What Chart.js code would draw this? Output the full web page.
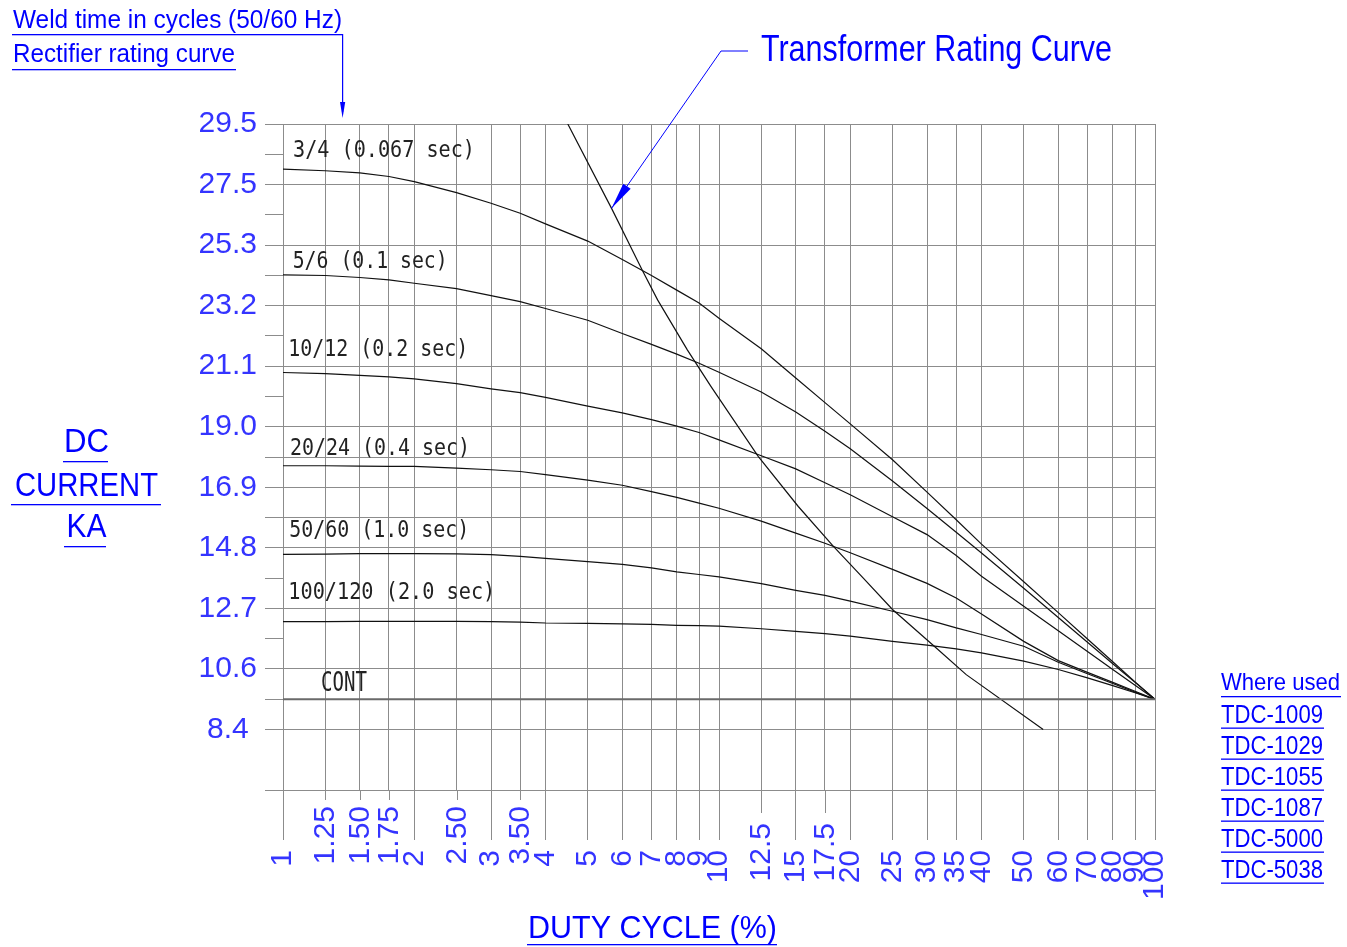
<!DOCTYPE html>
<html>
<head>
<meta charset="utf-8">
<title>Rectifier rating curve</title>
<script src="https://cdn.jsdelivr.net/npm/chart.js@4.4.1/dist/chart.umd.min.js"></script>
<style>
  html, body { margin: 0; padding: 0; background: #fff; }
  canvas { display: block; }
</style>
</head>
<body>
<canvas id="chart" width="1347" height="947"></canvas>
<script>
const dutyCycle = [1, 1.25, 1.5, 1.75, 2, 2.5, 3, 3.5, 4, 5, 6, 7, 8, 9, 10, 12.5, 15, 17.5, 20, 25, 30, 35, 40, 50, 60, 70, 80, 90, 100];

// DC current (KA) for each weld time
const cycles3_4 = [27.93, 27.87, 27.80, 27.67, 27.49, 27.11, 26.74, 26.39, 26.02, 25.42, 24.78, 24.22, 23.71, 23.26, 22.73, 21.67, 20.65, 19.79, 19.05, 17.80, 16.67, 15.71, 14.86, 13.55, 12.47, 11.55, 10.76, 10.06, 9.45];
const cycles5_6 = [24.24, 24.22, 24.15, 24.07, 23.95, 23.76, 23.52, 23.31, 23.07, 22.66, 22.20, 21.82, 21.48, 21.16, 20.85, 20.16, 19.46, 18.79, 18.18, 17.06, 16.10, 15.27, 14.55, 13.32, 12.30, 11.44, 10.69, 10.04, 9.45];
const cycles10_12 = [20.84, 20.80, 20.74, 20.69, 20.62, 20.45, 20.27, 20.14, 19.97, 19.67, 19.43, 19.20, 18.97, 18.75, 18.49, 17.94, 17.48, 17.00, 16.58, 15.81, 15.19, 14.46, 13.74, 12.69, 11.84, 11.12, 10.49, 9.94, 9.45];
const cycles20_24 = [17.59, 17.59, 17.58, 17.57, 17.57, 17.51, 17.45, 17.39, 17.28, 17.09, 16.91, 16.69, 16.49, 16.29, 16.11, 15.66, 15.24, 14.89, 14.56, 13.98, 13.49, 12.98, 12.42, 11.47, 10.80, 10.39, 10.04, 9.73, 9.45];
const cycles50_60 = [14.50, 14.51, 14.53, 14.53, 14.53, 14.52, 14.49, 14.43, 14.36, 14.25, 14.15, 14.03, 13.89, 13.80, 13.72, 13.48, 13.25, 13.07, 12.87, 12.52, 12.23, 11.94, 11.71, 11.30, 10.74, 10.34, 10.00, 9.70, 9.45];
const cycles100_120 = [12.16, 12.16, 12.17, 12.17, 12.17, 12.17, 12.16, 12.14, 12.11, 12.10, 12.08, 12.06, 12.03, 12.02, 12.00, 11.91, 11.82, 11.74, 11.65, 11.47, 11.34, 11.21, 11.07, 10.78, 10.49, 10.20, 9.93, 9.68, 9.45];
const seriesNames = ['3/4 (0.067 sec)', '5/6 (0.1 sec)', '10/12 (0.2 sec)', '20/24 (0.4 sec)', '50/60 (1.0 sec)', '100/120 (2.0 sec)'];

// continuous rating
const contDuty = [1, 100];
const contCurrent = [9.45, 9.45];

// transformer rating curve
const transformerDuty = [4.5, 5.67, 6.66, 7.23, 8.46, 9.59, 12.3, 15.2, 18.3, 21.4, 25.0, 31.5, 36.9, 55.4];
const transformerCurrent = [29.5, 26.56, 24.42, 23.37, 21.63, 20.35, 17.92, 16.17, 14.78, 13.68, 12.58, 11.24, 10.31, 8.40];

// axis ticks
const xMainTicks = [1, 2, 3, 4, 5, 6, 7, 8, 9, 10, 15, 20, 25, 30, 35, 40, 50, 60, 70, 80, 90, 100];
const xMinorTicks = [1.25, 1.5, 1.75, 2.5, 3.5, 12.5, 17.5];
const xMinorLabels = ['1.25', '1.50', '1.75', '2.50', '3.50', '12.5', '17.5'];
const yTickLabels = ['8.4', '10.6', '12.7', '14.8', '16.9', '19.0', '21.1', '23.2', '25.3', '27.5', '29.5'];
const whereUsed = ['TDC-1009', 'TDC-1029', 'TDC-1055', 'TDC-1087', 'TDC-5000', 'TDC-5038'];

const BLUE = '#0000ff';
const TICK_BLUE = '#3434ff';
const GRID = '#8c8c8c';
const INK = '#111';

// y axis is drawn in half steps of 2.11 KA starting from 8.4
const yBase = 8.4, yHalf = 1.055;
const yHalfIdx = [-2, 0, 1, 2, 3, 4, 5, 6, 7, 8, 9, 10, 11, 12, 13, 14, 15, 16, 17, 18, 19, 20];
const yFullIdx = [-2, 0, 1, 2, 4, 6, 7, 8, 9, 10, 12, 14, 16, 18, 20];

const xAll = xMainTicks.concat(xMinorTicks).sort((a, b) => a - b);

// label placement relative to the first point of each curve
const labelStyle = [
  {dx: 10, dy: 12, w: 182},
  {dx: 9.7, dy: 6.7, w: 155},
  {dx: 5.3, dy: 16.7, w: 180},
  {dx: 7, dy: 11, w: 180},
  {dx: 6.3, dy: 17.4, w: 180},
  {dx: 5.3, dy: 23, w: 207}
];

function fitText(ctx, s, x, base, size, width, family) {
  ctx.save();
  ctx.font = size + 'px ' + (family || '"Liberation Sans"');
  const w = ctx.measureText(s).width;
  ctx.translate(x, base);
  ctx.scale(width / w, 1);
  ctx.fillText(s, 0, 0);
  ctx.restore();
}

function monoText(ctx, s, x, base, width, vs) {
  ctx.save();
  ctx.font = '20px "DejaVu Sans Mono"';
  const w = ctx.measureText(s).width;
  ctx.translate(x, base);
  ctx.scale(width / w, vs);
  ctx.fillText(s, 0, 0);
  ctx.restore();
}

function underline(ctx, x1, x2, y) {
  ctx.fillRect(x1, y, x2 - x1, 1.3);
}

function arrowHead(ctx, tx, ty, fx, fy, len, half) {
  const L = Math.hypot(fx - tx, fy - ty);
  const ux = (fx - tx) / L, uy = (fy - ty) / L;
  const bx = tx + ux * len, by = ty + uy * len;
  ctx.beginPath();
  ctx.moveTo(tx, ty);
  ctx.lineTo(bx - uy * half, by + ux * half);
  ctx.lineTo(bx + uy * half, by - ux * half);
  ctx.closePath();
  ctx.fill();
}

const annotations = {
  id: 'annotations',
  afterDraw(chart) {
    const ctx = chart.ctx;
    const xs = chart.scales.x;
    const area = chart.chartArea;

    // curve labels
    ctx.fillStyle = '#222';
    ctx.textBaseline = 'alphabetic';
    ctx.textAlign = 'left';
    seriesNames.forEach((name, i) => {
      const p = chart.getDatasetMeta(i + 1).data[0];
      const st = labelStyle[i];
      monoText(ctx, name, area.left + st.dx, p.y - st.dy, st.w, 1.18);
    });
    const c0 = chart.getDatasetMeta(0).data[0];
    monoText(ctx, 'CONT', area.left + 38, c0.y - 8, 46, 1.3);

    // minor duty cycle ticks and labels
    ctx.strokeStyle = GRID;
    ctx.lineWidth = 1;
    ctx.fillStyle = TICK_BLUE;
    ctx.font = '30px "Liberation Sans"';
    xMinorTicks.forEach((v, i) => {
      const px = Math.round(xs.getPixelForValue(v)) + 0.5;
      const len = v > 10 ? 23 : 10;
      ctx.beginPath();
      ctx.moveTo(px, area.bottom);
      ctx.lineTo(px, area.bottom + len);
      ctx.stroke();
      ctx.save();
      ctx.translate(px, area.bottom + len + (v > 10 ? 10 : 6));
      ctx.rotate(-Math.PI / 2);
      ctx.textAlign = 'right';
      ctx.textBaseline = 'middle';
      ctx.fillText(xMinorLabels[i], 0, 0);
      ctx.restore();
    });

    ctx.fillStyle = BLUE;
    ctx.strokeStyle = BLUE;
    ctx.textAlign = 'left';
    ctx.textBaseline = 'alphabetic';

    // weld time / rectifier rating note with arrow to the top of the chart
    fitText(ctx, 'Weld time in cycles (50/60 Hz)', 13, 28, 26, 329);
    fitText(ctx, 'Rectifier rating curve', 13, 62, 26, 222);
    const wx = xs.getPixelForValue(1.37);
    underline(ctx, 12, wx, 34);
    underline(ctx, 12, 236, 69);
    ctx.lineWidth = 1.2;
    ctx.beginPath();
    ctx.moveTo(wx, 34);
    ctx.lineTo(wx, area.top - 12);
    ctx.stroke();
    arrowHead(ctx, wx, area.top - 6, wx, 34, 16, 2.6);

    // transformer rating curve note
    fitText(ctx, 'Transformer Rating Curve', 761, 61, 36, 351);
    const tip = chart.getDatasetMeta(chart.data.datasets.length - 1).data[1];
    ctx.lineWidth = 1;
    ctx.beginPath();
    ctx.moveTo(748, 51);
    ctx.lineTo(721, 51);
    ctx.lineTo(tip.x, tip.y);
    ctx.stroke();
    arrowHead(ctx, tip.x, tip.y, 721, 51, 27, 4.5);

    // y axis title
    const yt = [['DC', 452, 45, 63, 108, 461], ['CURRENT', 496, 143, 11, 161, 504], ['KA', 537, 40, 64, 106, 546]];
    yt.forEach(t => {
      fitText(ctx, t[0], 86.5 - t[2] / 2, t[1], 33, t[2]);
      underline(ctx, t[3], t[4], t[5]);
    });

    // x axis title
    fitText(ctx, 'DUTY CYCLE (%)', 528, 938, 32, 249);
    underline(ctx, 527, 777, 944);

    // where used list
    fitText(ctx, 'Where used', 1221, 690, 24, 119);
    underline(ctx, 1221, 1341, 696);
    whereUsed.forEach((s, i) => {
      const b = 723 + i * 31;
      fitText(ctx, s, 1221, b, 25, 102);
      underline(ctx, 1221, 1324, b + 4.5);
    });
  }
};

const curveSets = [cycles3_4, cycles5_6, cycles10_12, cycles20_24, cycles50_60, cycles100_120];

const datasets = [{
  label: 'CONT',
  data: contDuty.map((x, i) => ({x: x, y: contCurrent[i]})),
  borderColor: '#6a6a6a',
  borderWidth: 2
}];
curveSets.forEach((ys, i) => {
  datasets.push({
    label: seriesNames[i],
    data: dutyCycle.map((x, j) => ({x: x, y: ys[j]})),
    borderColor: INK,
    borderWidth: 1.2
  });
});
datasets.push({
  label: 'Transformer Rating Curve',
  data: transformerDuty.map((x, i) => ({x: x, y: transformerCurrent[i]})),
  borderColor: INK,
  borderWidth: 1.2
});

const ctx = document.getElementById('chart').getContext('2d');
const chart = new Chart(ctx, {
  type: 'line',
  data: {datasets: datasets},
  options: {
    responsive: false,
    animation: false,
    events: [],
    layout: {padding: {left: 0, top: 124, right: 192, bottom: 0}},
    elements: {
      point: {radius: 0},
      line: {tension: 0, fill: false}
    },
    plugins: {
      legend: {display: false},
      tooltip: {enabled: false}
    },
    scales: {
      x: {
        type: 'logarithmic',
        min: 1,
        max: 100,
        afterBuildTicks: s => { s.ticks = xAll.map(v => ({value: v})); },
        afterFit: s => { s.height = 157; },
        border: {display: false},
        grid: {
          color: GRID,
          lineWidth: 1,
          tickLength: 50,
          tickColor: c => xMainTicks.includes(xAll[c.index]) ? GRID : 'rgba(0,0,0,0)'
        },
        ticks: {
          autoSkip: false,
          minRotation: 90,
          maxRotation: 90,
          padding: 10,
          color: TICK_BLUE,
          font: {family: 'Liberation Sans', size: 30},
          callback: (v, i) => xMainTicks.includes(xAll[i]) ? String(xAll[i]) : ''
        }
      },
      y: {
        type: 'linear',
        min: yBase + yHalfIdx[0] * yHalf,
        max: yBase + 20 * yHalf,
        afterBuildTicks: s => { s.ticks = yHalfIdx.map(k => ({value: yBase + k * yHalf})); },
        afterFit: s => { s.width = 283; },
        border: {display: false},
        grid: {
          color: c => yFullIdx.includes(yHalfIdx[c.index]) ? GRID : 'rgba(0,0,0,0)',
          tickColor: GRID,
          lineWidth: 1,
          tickLength: 18
        },
        ticks: {
          autoSkip: false,
          padding: 8,
          color: TICK_BLUE,
          font: {family: 'Liberation Sans', size: 30},
          callback: (v, i) => {
            const k = yHalfIdx[i];
            if (k < 0 || k % 2) return '';
            const s = yTickLabels[k / 2];
            return s === '8.4' ? s + ' ' : s;
          }
        }
      }
    }
  },
  plugins: [annotations]
});
</script>
</body>
</html>
